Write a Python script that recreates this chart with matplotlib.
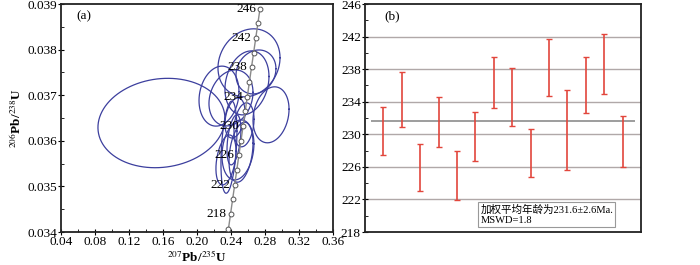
import numpy as np
import matplotlib
matplotlib.use('Agg')
import matplotlib.pyplot as plt

plt.rcParams['font.family'] = ['Liberation Serif', 'Noto Sans CJK SC']
plt.rcParams['mathtext.fontset'] = 'stix'

# concordia marker ages (Ma) and their ratios
con_ages = [216, 218, 220, 222, 224, 226, 228, 230, 232, 234, 236, 238, 240, 242, 244, 246]
con_x = [0.23705, 0.23949, 0.24193, 0.24438, 0.24683, 0.24929, 0.25176, 0.25422,
         0.25670, 0.25917, 0.26166, 0.26414, 0.26664, 0.26913, 0.27164, 0.27414]
con_y = [0.034075, 0.034395, 0.034717, 0.035038, 0.035359, 0.035680, 0.036002, 0.036323,
         0.036644, 0.036966, 0.037288, 0.037610, 0.037932, 0.038253, 0.038576, 0.038898]
label_ages = [218, 222, 226, 230, 234, 238, 242, 246]

# error ellipses: centre, sigma x, sigma y, correlation
ell_cx = [0.1582, 0.2612, 0.2588, 0.2259, 0.2400, 0.2871, 0.2482,
          0.2376, 0.2435, 0.2518, 0.2694, 0.2341, 0.2447, 0.2553]
ell_cy = [0.03639, 0.03771, 0.03727, 0.03698, 0.03694, 0.03657, 0.03580,
          0.03586, 0.03602, 0.03575, 0.03751, 0.03558, 0.03650, 0.03635]
ell_sx = [0.0747, 0.0365, 0.0259, 0.0235, 0.0259, 0.0212, 0.0188,
          0.0094, 0.0082, 0.0141, 0.0235, 0.0118, 0.0118, 0.0118]
ell_sy = [0.00098, 0.000746, 0.000702, 0.000658, 0.000614, 0.000614, 0.000658,
          0.00101, 0.000548, 0.000658, 0.000482, 0.000548, 0.000439, 0.000482]
ell_rho = [0.1, 0.15, 0.2, 0.15, 0.2, 0.2, 0.2, 0.35, 0.4, 0.3, 0.15, 0.35, 0.3, 0.25]

# weighted mean plot: age ranges per analysis
age_top = [233.4, 237.6, 228.8, 234.6, 228.0, 232.7, 239.5, 238.2, 230.7, 241.7, 235.4, 239.5, 242.3, 232.3]
age_bot = [227.5, 230.9, 223.0, 228.5, 221.9, 226.7, 233.2, 231.0, 224.7, 234.7, 225.6, 232.6, 235.0, 226.0]
mean_age = 231.6

fig = plt.figure(figsize=(7, 2.65), dpi=100)
ax1 = fig.add_axes([0.0871, 0.1245, 0.3886, 0.8604])
ax2 = fig.add_axes([0.5214, 0.1245, 0.3943, 0.8604])

# ---- (a) concordia
t = np.linspace(0, 2 * np.pi, 200)
for cx, cy, sx, sy, r in zip(ell_cx, ell_cy, ell_sx, ell_sy, ell_rho):
    ex = cx + sx * np.cos(t)
    ey = cy + sy * (r * np.cos(t) + np.sqrt(1 - r ** 2) * np.sin(t))
    ax1.plot(ex, ey, color='#3c3f9e', lw=0.9, zorder=2)

ax1.plot(con_x, con_y, color='#8a8a8a', lw=1.0, zorder=3)
ax1.plot(con_x, con_y, 'o', ms=3.5, mfc='white', mec='#555555', mew=0.7, zorder=4)
for a, x, y in zip(con_ages, con_x, con_y):
    if a in label_ages:
        ax1.annotate(str(a), (x, y), xytext=(-3, 0), textcoords='offset points',
                     ha='right', va='center', fontsize=9.5, zorder=5)

ax1.set_xlim(0.04, 0.36)
ax1.set_ylim(0.034, 0.039)
ax1.set_xticks(np.arange(0.04, 0.361, 0.04))
ax1.set_xticklabels(['0.04', '0.08', '0.12', '0.16', '0.20', '0.24', '0.28', '0.32', '0.36'])
ax1.set_xticks(np.arange(0.06, 0.36, 0.04), minor=True)
ax1.set_yticks([0.034, 0.035, 0.036, 0.037, 0.038, 0.039])
ax1.set_yticklabels(['0.034', '0.035', '0.036', '0.037', '0.038', '0.039'])
ax1.set_yticks([0.0345, 0.0355, 0.0365, 0.0375, 0.0385], minor=True)
ax1.tick_params(which='major', direction='inout', length=4, labelsize=9.5, pad=1)
ax1.tick_params(which='minor', direction='in', length=2.5)
ax1.set_xlabel(r'$^{207}$Pb/$^{235}$U', fontsize=9.5, fontweight='bold', labelpad=1)
ax1.set_ylabel(r'$^{206}$Pb/$^{238}$U', fontsize=9.5, fontweight='bold', labelpad=2)
ax1.text(0.085, 0.947, '(a)', transform=ax1.transAxes, ha='center', va='center', fontsize=9.5)
for s in ax1.spines.values():
    s.set_linewidth(1.3)
    s.set_color('#222222')

# ---- (b) weighted mean
xs = np.arange(1, len(age_top) + 1)
for g in [222, 226, 230, 234, 238, 242]:
    ax2.axhline(g, color='#b0a8a8', lw=1.0, zorder=1)
ax2.hlines(mean_age, 0.3, 14.7, color='#8c8c8c', lw=1.2, zorder=2)
mid = [(a + b) / 2 for a, b in zip(age_top, age_bot)]
half = [(a - b) / 2 for a, b in zip(age_top, age_bot)]
ax2.errorbar(xs, mid, yerr=half, fmt='none', ecolor='#e2463c', elinewidth=1.2,
             capsize=2, capthick=1.0, zorder=3)

ax2.set_xlim(0, 15)
ax2.set_ylim(218, 246)
ax2.set_xticks([])
ax2.set_yticks(np.arange(218, 247, 4))
ax2.set_yticks(np.arange(220, 246, 4), minor=True)
ax2.tick_params(which='major', direction='inout', length=4, labelsize=9.5, pad=1)
ax2.tick_params(which='minor', direction='in', length=2.5)
ax2.text(0.10, 0.947, '(b)', transform=ax2.transAxes, ha='center', va='center', fontsize=9.5)
ax2.text(0.418, 0.03, '加权平均年龄为231.6±2.6Ma.\nMSWD=1.8', transform=ax2.transAxes,
         ha='left', va='bottom', fontsize=7.6, linespacing=1.25,
         bbox=dict(boxstyle='square,pad=0.2', fc='white', ec='#999999', lw=0.8))
for s in ax2.spines.values():
    s.set_linewidth(1.3)
    s.set_color('#222222')

fig.savefig('out.png', dpi=100)
